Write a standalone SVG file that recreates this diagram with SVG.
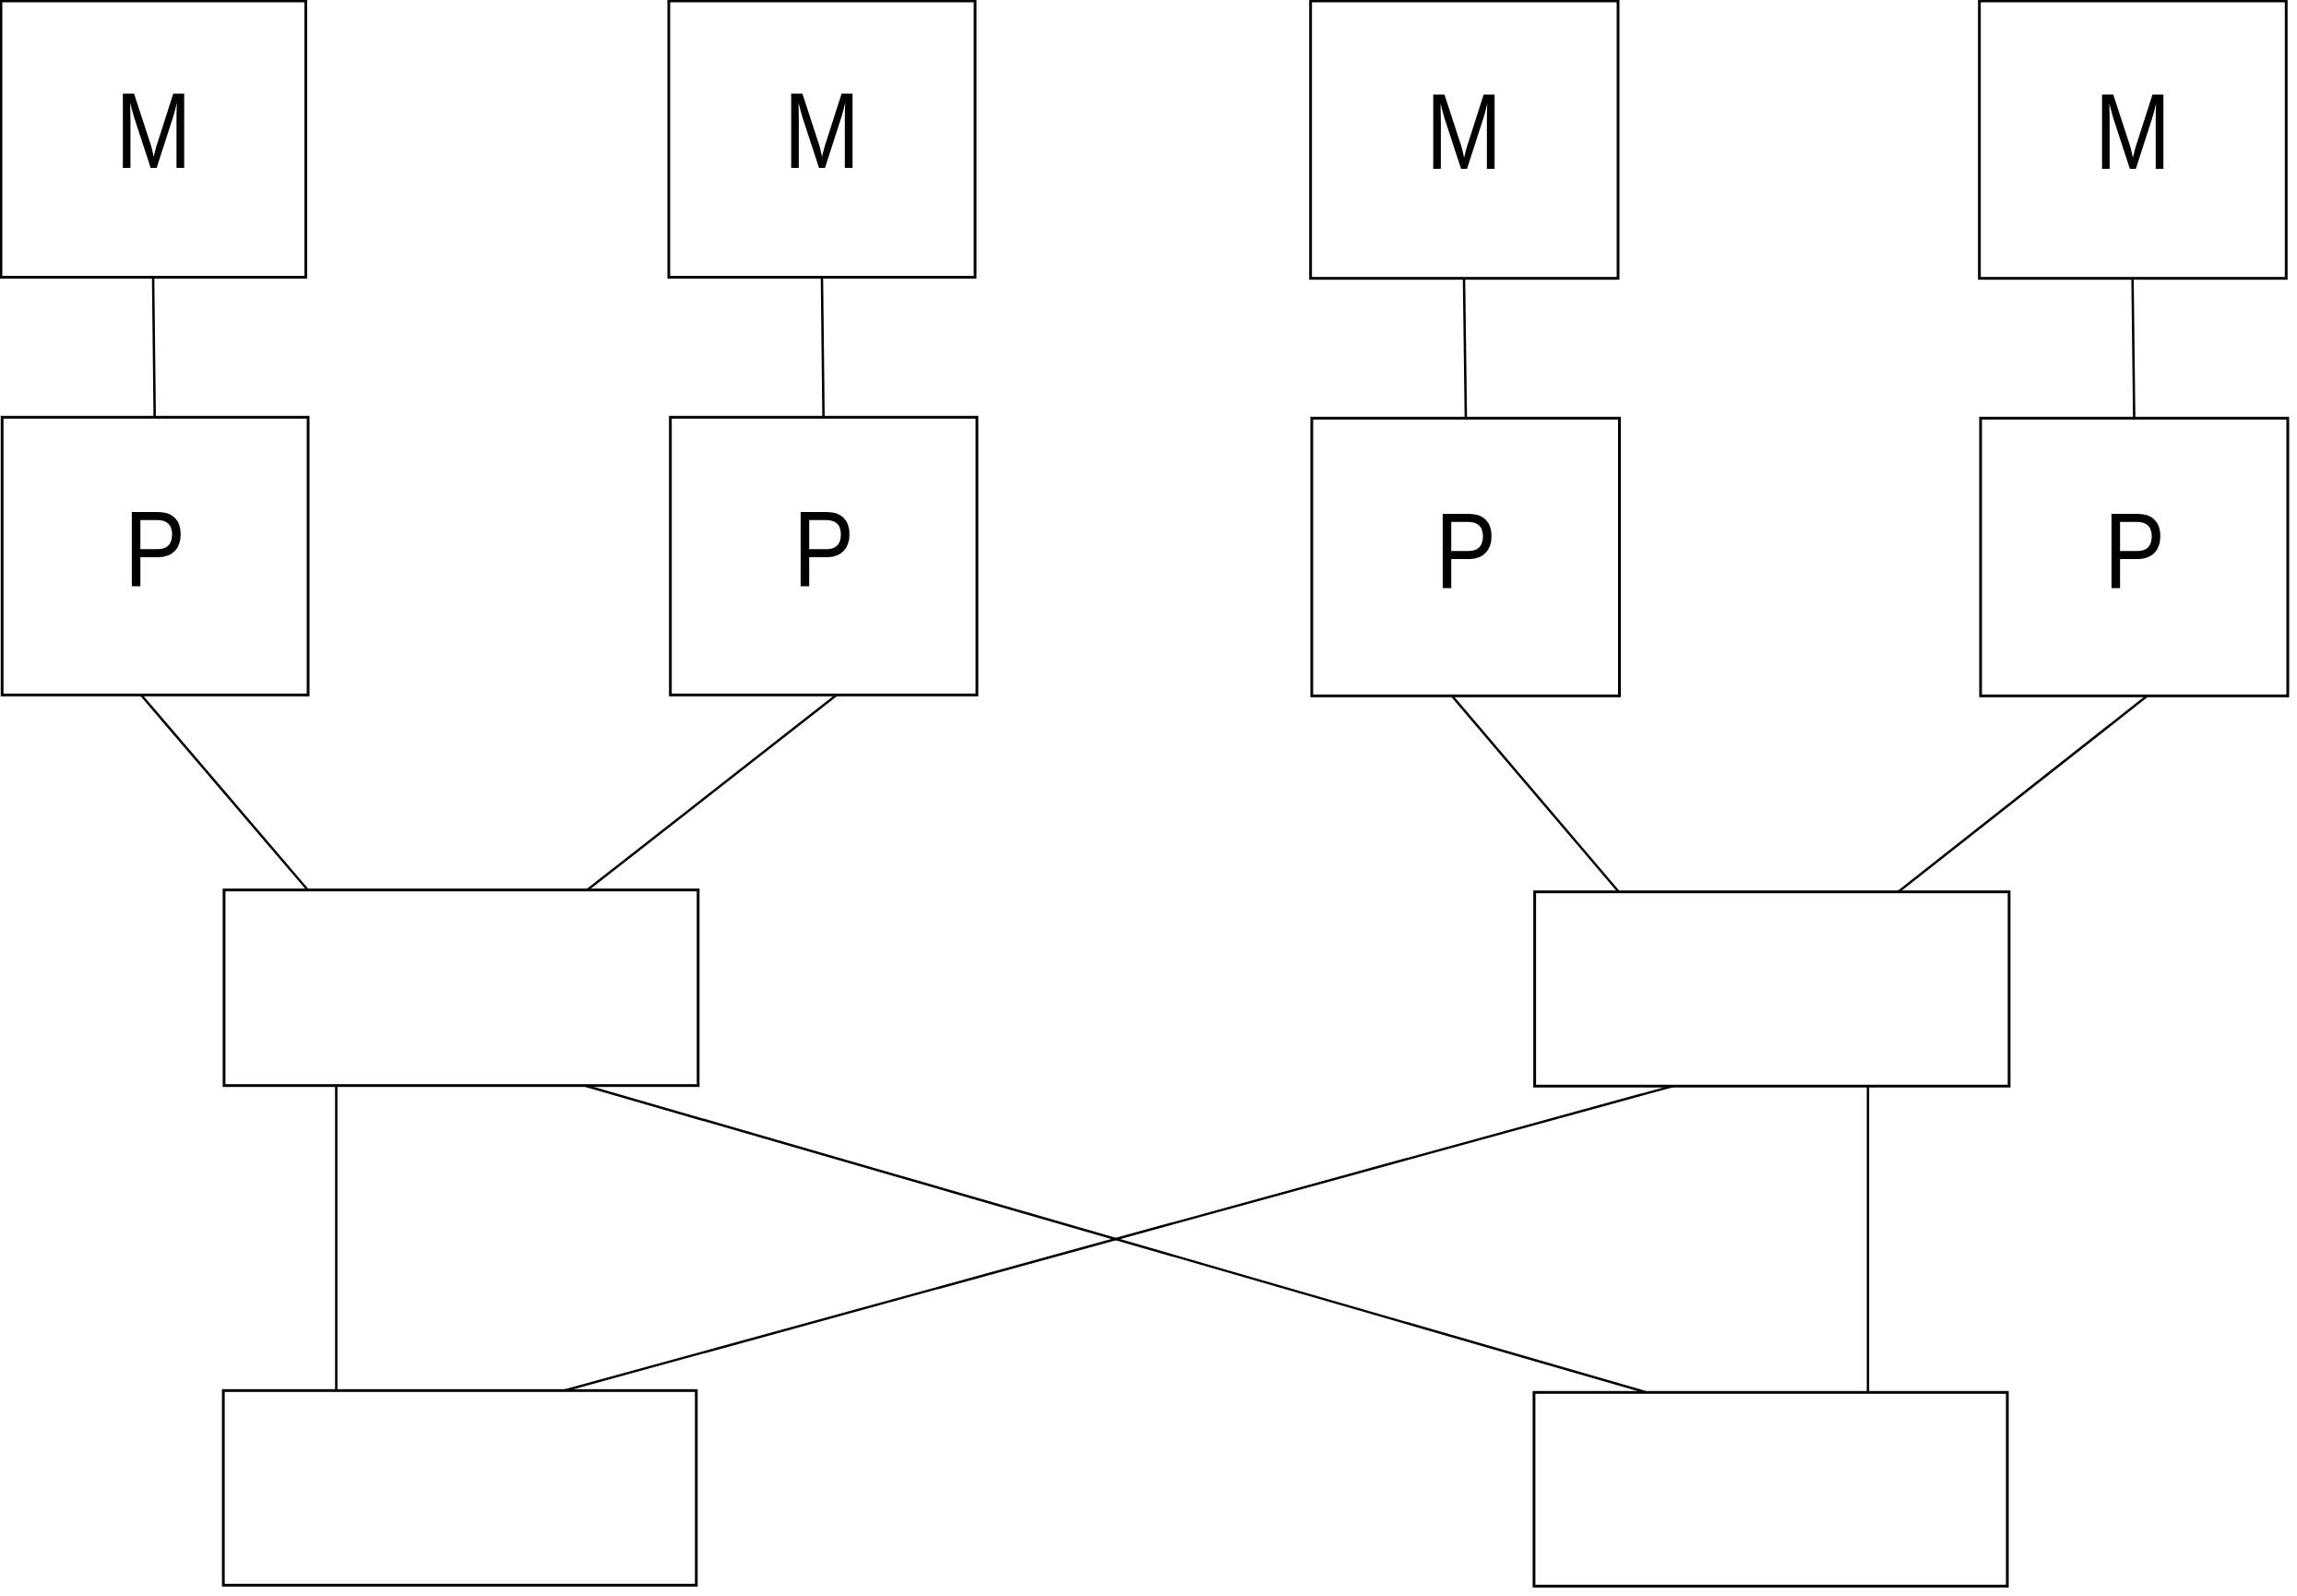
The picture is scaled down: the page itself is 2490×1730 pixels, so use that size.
<svg xmlns="http://www.w3.org/2000/svg" width="2490" height="1730" viewBox="0 0 2490 1730">
  <style>
    .box { fill: #ffffff; stroke: #000000; stroke-width: 3; }
    .link { stroke: #000000; stroke-width: 2.6; fill: none; }
    .lbl { font-family: "Liberation Sans", Arial, sans-serif; font-size: 117px; fill: #000000; text-anchor: middle; }
  </style>
  <rect x="0" y="0" width="2490" height="1730" fill="#ffffff"/>

  <!-- connectors -->
  <g id="connectors">
    <!-- memory to processor -->
    <line class="link" x1="166" y1="301" x2="167.7" y2="452"/>
    <line class="link" x1="891" y1="301" x2="892.7" y2="452"/>
    <line class="link" x1="1587" y1="302" x2="1589" y2="453"/>
    <line class="link" x1="2311.7" y1="302" x2="2313.5" y2="453"/>
    <!-- processor to upper switch -->
    <line class="link" x1="152.7" y1="753" x2="333.9" y2="965"/>
    <line class="link" x1="907.3" y1="753" x2="636.2" y2="965"/>
    <line class="link" x1="1573.7" y1="754" x2="1755" y2="967"/>
    <line class="link" x1="2328" y1="754" x2="2057.4" y2="967"/>
    <!-- upper switches to lower switches -->
    <line class="link" x1="364.5" y1="1177" x2="364.5" y2="1509"/>
    <line class="link" x1="635" y1="1177" x2="1783.8" y2="1509"/>
    <line class="link" x1="1814.4" y1="1177" x2="605.6" y2="1509"/>
    <line class="link" x1="2024.9" y1="1177" x2="2024.9" y2="1509"/>
  </g>

  <!-- memory nodes -->
  <g id="m1"><rect class="box" x="1" y="1" width="330.5" height="299.5"/><text class="lbl" transform="translate(166.3,181.7) scale(0.85,1)">M</text></g>
  <g id="m2"><rect class="box" x="725" y="1" width="332" height="299.5"/><text class="lbl" transform="translate(891,181.7) scale(0.85,1)">M</text></g>
  <g id="m3"><rect class="box" x="1420.7" y="1" width="333.3" height="300.7"/><text class="lbl" transform="translate(1587,183.3) scale(0.85,1)">M</text></g>
  <g id="m4"><rect class="box" x="2145.7" y="1" width="332.6" height="300.7"/><text class="lbl" transform="translate(2312,183.3) scale(0.85,1)">M</text></g>

  <!-- processor nodes -->
  <g id="p1"><rect class="box" x="2.3" y="452.3" width="331.7" height="301"/><text class="lbl" transform="translate(168,635) scale(0.85,1)">P</text></g>
  <g id="p2"><rect class="box" x="726.7" y="452.3" width="332.3" height="301"/><text class="lbl" transform="translate(893,635) scale(0.85,1)">P</text></g>
  <g id="p3"><rect class="box" x="1422" y="453.3" width="333.5" height="301"/><text class="lbl" transform="translate(1589,636.5) scale(0.85,1)">P</text></g>
  <g id="p4"><rect class="box" x="2147" y="453.3" width="333" height="301"/><text class="lbl" transform="translate(2314,636.5) scale(0.85,1)">P</text></g>

  <!-- upper switches -->
  <g id="s1"><rect class="box" x="242.9" y="964.7" width="513.9" height="212"/></g>
  <g id="s2"><rect class="box" x="1663.6" y="966.7" width="514.3" height="210.6"/></g>

  <!-- lower switches -->
  <g id="s3"><rect class="box" x="242.1" y="1507.3" width="512.7" height="211"/></g>
  <g id="s4"><rect class="box" x="1662.9" y="1509.3" width="513.1" height="210"/></g>
</svg>
